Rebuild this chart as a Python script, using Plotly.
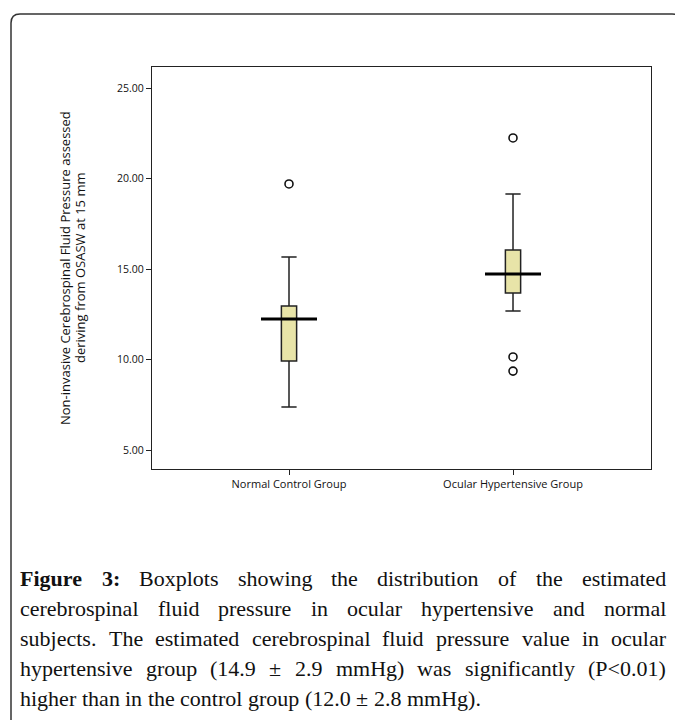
import plotly.graph_objects as go

# ---- data ----
categories = ["Normal Control Group", "Ocular Hypertensive Group"]
q1 = [9.92, 13.67]
median = [12.24, 14.72]
q3 = [12.96, 16.05]
lower_whisker = [7.38, 12.68]
upper_whisker = [15.66, 19.14]
outlier_group = ["Normal Control Group", "Ocular Hypertensive Group",
                 "Ocular Hypertensive Group", "Ocular Hypertensive Group"]
outlier_values = [19.70, 22.24, 10.14, 9.36]
y_ticks = [5, 10, 15, 20, 25]

y_title_lines = ["Non-invasive Cerebrospinal Fluid Pressure assessed",
                 "deriving from OSASW at 15 mm"]
caption_bold = "Figure 3:"
caption_lines = [
    "Figure 3: Boxplots showing the distribution of the estimated",
    "cerebrospinal fluid pressure in ocular hypertensive and normal",
    "subjects. The estimated cerebrospinal fluid pressure value in ocular",
    "hypertensive group (14.9 ± 2.9 mmHg) was significantly (P<0.01)",
    "higher than in the control group (12.0 ± 2.8 mmHg).",
]

# ---- layout geometry (page pixels; page body has an 8px margin) ----
OFF = 8
W, H = 683 - OFF, 720 - OFF
L, R, T, B = 152, 651, 67, 469
pw, ph = R - L, B - T


def px(x):
    return (x - L) / pw


def py(y):
    return (B - y) / ph


# Times / Liberation Serif advance widths (1/1000 em)
TW = {' ': 250, '!': 333, '(': 333, ')': 333, ',': 250, '-': 333, '.': 250,
      ':': 278, ';': 278, '<': 564, '>': 564, '±': 549,
      'A': 722, 'B': 667, 'C': 667, 'D': 722, 'E': 611, 'F': 556, 'G': 722,
      'H': 722, 'I': 333, 'J': 389, 'K': 722, 'L': 611, 'M': 889, 'N': 722,
      'O': 722, 'P': 556, 'Q': 722, 'R': 667, 'S': 556, 'T': 611, 'U': 722,
      'V': 722, 'W': 944, 'X': 722, 'Y': 722, 'Z': 611,
      'a': 444, 'b': 500, 'c': 444, 'd': 500, 'e': 444, 'f': 333, 'g': 500,
      'h': 500, 'i': 278, 'j': 278, 'k': 500, 'l': 278, 'm': 778, 'n': 500,
      'o': 500, 'p': 500, 'q': 500, 'r': 333, 's': 389, 't': 278, 'u': 500,
      'v': 500, 'w': 722, 'x': 500, 'y': 500, 'z': 444}
TWB = {'F': 611, 'i': 278, 'g': 500, 'u': 556, 'r': 444, 'e': 444, ':': 333}


def word_width(w, size, bold=False):
    tot = 0
    for ch in w:
        if bold and ch in TWB:
            tot += TWB[ch]
        elif ch.isdigit():
            tot += 500
        else:
            tot += TW.get(ch, 500)
    return tot * size / 1000.0


fig = go.Figure()

fig.add_trace(go.Box(
    x=categories, q1=q1, median=median, q3=q3,
    lowerfence=lower_whisker, upperfence=upper_whisker,
    fillcolor="#E8E4A8", line=dict(color="#222222", width=1.5),
    width=0.068, whiskerwidth=1, boxpoints=False, showlegend=False,
    hoverinfo="skip",
))

# wide median bars
fig.add_trace(go.Scatter(
    x=categories, y=median, mode="markers",
    marker=dict(symbol="line-ew", size=40,
                line=dict(color="#000000", width=3)),
    showlegend=False, hoverinfo="skip",
))

# outliers
fig.add_trace(go.Scatter(
    x=outlier_group, y=outlier_values, mode="markers",
    marker=dict(symbol="circle-open", size=8, color="#111111",
                line=dict(color="#111111", width=1.6)),
    showlegend=False, hoverinfo="skip",
))

axis_font = dict(family="Open Sans", size=10.5, color="#111111")
fig.update_xaxes(
    type="category", range=[-0.6116, 1.616],
    showline=True, linecolor="#222222", linewidth=1.2, mirror=True,
    ticks="outside", ticklen=5, tickcolor="#222222", tickwidth=1,
    tickfont=dict(family="Open Sans", size=11, color="#111111"),
    showgrid=False, zeroline=False,
)
fig.update_yaxes(
    range=[3.95, 26.16], tickvals=y_ticks, tickformat=".2f",
    showline=True, linecolor="#222222", linewidth=1.2, mirror=True,
    ticks="outside", ticklen=5, tickcolor="#222222", tickwidth=1,
    tickfont=axis_font, showgrid=False, zeroline=False,
)

annotations = []
for xc, line in zip([65, 80], y_title_lines):
    annotations.append(dict(
        text=line, xref="paper", yref="paper",
        x=px(xc), y=py(268), xanchor="center", yanchor="middle",
        textangle=-90, showarrow=False,
        font=dict(family="Open Sans", size=13, color="#111111"),
    ))

# justified caption, word by word
CAP_SIZE = 22
CAP_L, CAP_R = 19, 665
bold_words = caption_bold.split()
for i, line in enumerate(caption_lines):
    words = line.split()
    bold_flags = [i == 0 and j < len(bold_words) for j in range(len(words))]
    widths = [word_width(w, CAP_SIZE, b) for w, b in zip(words, bold_flags)]
    natural_space = TW[' '] * CAP_SIZE / 1000.0
    last = i == len(caption_lines) - 1
    if last or len(words) < 2:
        gap = natural_space
    else:
        gap = (CAP_R - CAP_L - sum(widths)) / (len(words) - 1)
    xpos = CAP_L
    ycen = 578 + 30.2 * i
    for w, wd, b in zip(words, widths, bold_flags):
        annotations.append(dict(
            text=f"<b>{w}</b>" if b else w, xref="paper", yref="paper",
            x=px(xpos - 1), y=py(ycen), xanchor="left", yanchor="middle",
            showarrow=False, align="left",
            font=dict(family="Liberation Serif", size=CAP_SIZE, color="#111111"),
        ))
        xpos += wd + gap

# outer rounded frame
x0, x1 = px(11), px(681)
y0, y1 = py(740), py(14)
rx, ry = 9 / pw, 9 / ph
frame_path = (
    f"M {x0},{y0} L {x0},{y1 - ry} Q {x0},{y1} {x0 + rx},{y1} "
    f"L {x1 - rx},{y1} Q {x1},{y1} {x1},{y1 - ry} L {x1},{y0}"
)

fig.update_layout(
    width=W, height=H,
    margin=dict(l=L - OFF, r=(W + OFF) - R, t=T - OFF, b=(H + OFF) - B),
    paper_bgcolor="white", plot_bgcolor="white",
    annotations=annotations,
    shapes=[dict(type="path", path=frame_path, xref="paper", yref="paper",
                 line=dict(color="#333333", width=1.5))],
)

fig.write_html("out.html")
